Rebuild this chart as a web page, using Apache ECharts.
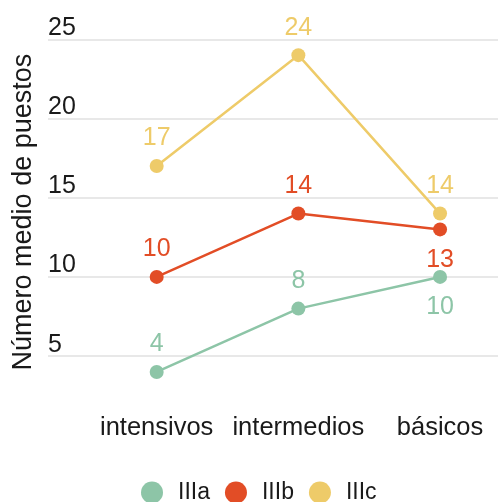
<!DOCTYPE html>
<html>
<head>
<meta charset="utf-8">
<script src="https://cdn.jsdelivr.net/npm/echarts@6/dist/echarts.min.js"></script>
<style>
  html, body { margin: 0; padding: 0; background: #fff; }
  #chart { width: 498px; height: 502px; }
</style>
</head>
<body>
<div id="chart"></div>
<script>
// Mean number of positions by course type
const categories = ['intensivos', 'intermedios', 'básicos'];
const seriesNames = ['IIIa', 'IIIb', 'IIIc'];
const valuesIIIa = [4, 8, 10];
const valuesIIIb = [10, 14, 13];
const valuesIIIc = [17, 24, 14];
const yTicks = [5, 10, 15, 20, 25];
const yTitle = 'Número medio de puestos';

const colors = ['#8dc5a7', '#e24d26', '#eecb69'];
const FONT = '"Liberation Sans", Arial, sans-serif';
const TEXT = '#1a1a1a';

// labels drawn under the point instead of above it (series index -> category index)
const labelsBelow = { 0: [2], 1: [2] };

const allValues = [valuesIIIa, valuesIIIb, valuesIIIc];
const series = allValues.map((vals, si) => ({
  name: seriesNames[si],
  type: 'line',
  color: colors[si],
  symbol: 'circle',
  symbolSize: 14,
  lineStyle: { width: 2.5, color: colors[si] },
  itemStyle: { color: colors[si] },
  z: 2 + si,
  data: vals.map((v, ci) => {
    const below = (labelsBelow[si] || []).includes(ci);
    return {
      value: [ci, v],
      label: {
        show: true,
        position: below ? 'bottom' : 'top',
        distance: below ? 11 : 8,
        formatter: String(v),
        color: colors[si],
        fontSize: 25,
        fontFamily: FONT
      }
    };
  })
}));

const chart = echarts.init(document.getElementById('chart'), null, { renderer: 'canvas' });
chart.setOption({
  animation: false,
  backgroundColor: '#ffffff',
  grid: { left: 48, right: 0, top: 39.3, bottom: 103.1, containLabel: false },
  xAxis: {
    type: 'value',
    min: -0.767,
    max: 2.409,
    axisLine: { show: false },
    axisTick: { show: false },
    splitLine: { show: false },
    axisLabel: {
      customValues: categories.map((c, i) => i),
      formatter: v => categories[Math.round(v)],
      color: TEXT,
      fontSize: 25.5,
      fontFamily: FONT,
      margin: 16
    }
  },
  yAxis: {
    type: 'value',
    min: 2.3,
    max: 25,
    name: yTitle,
    nameLocation: 'middle',
    nameRotate: 90,
    nameGap: 8,
    nameTextStyle: { color: TEXT, fontSize: 27, fontFamily: FONT, padding: [0, 0, 0, 14] },
    axisLine: { show: false },
    axisTick: { show: false, customValues: yTicks },
    splitLine: { show: true, lineStyle: { color: '#e0e0e0', width: 1.5 } },
    axisLabel: {
      customValues: yTicks,
      inside: true,
      margin: 0,
      align: 'left',
      verticalAlign: 'bottom',
      padding: [0, 0, -1, 0],
      color: TEXT,
      fontSize: 25,
      fontFamily: FONT
    }
  },
  legend: {
    data: seriesNames,
    left: 136,
    top: 476,
    icon: 'circle',
    itemWidth: 22,
    itemHeight: 22,
    itemGap: 15,
    textStyle: { color: TEXT, fontSize: 23, fontFamily: FONT, padding: [0, 0, 0, 10] }
  },
  series: series
});
</script>
</body>
</html>
